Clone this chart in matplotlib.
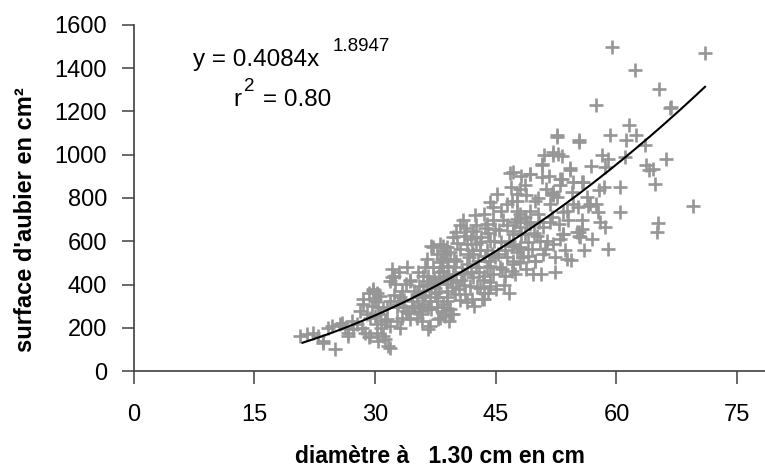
import numpy as np
import matplotlib
matplotlib.use("Agg")
import matplotlib.pyplot as plt

plt.rcParams['font.family'] = ['Liberation Sans', 'DejaVu Sans']

# diameter at 1.30 m (cm) and sapwood area (cm2)
diam = [
    20.7, 21.5, 22.3, 22.9, 23.5, 25.0, 24.2, 24.7, 25.7, 26.3,
    26.6, 27.3, 27.8, 28.4, 28.8, 29.4, 28.1, 28.5, 28.5, 29.7,
    30.0, 29.6, 29.0, 27.1, 26.6, 23.6, 25.9, 29.2, 29.2, 29.4,
    29.8, 30.6, 30.0, 32.1, 32.3, 31.9, 32.5, 33.3, 33.1, 33.9,
    34.3, 34.8, 34.6, 33.5, 33.9, 32.7, 31.5, 30.6, 30.0, 31.2,
    30.2, 31.9, 32.7, 33.3, 34.3, 35.2, 30.2, 31.0, 31.2, 31.6,
    30.4, 31.9, 33.1, 32.1, 30.4, 30.2, 31.9, 31.5, 32.9, 34.1,
    34.6, 35.2, 34.3, 33.0, 34.0, 32.4, 31.0, 33.6, 34.9, 30.8,
    36.6, 35.4, 36.2, 37.2, 38.1, 38.9, 37.7, 38.3, 38.7, 36.6,
    36.4, 36.0, 35.8, 36.8, 37.7, 37.7, 38.3, 38.1, 38.9, 38.9,
    37.5, 36.6, 35.6, 36.0, 35.2, 37.2, 38.3, 38.1, 39.1, 38.5,
    38.5, 39.3, 38.9, 38.5, 39.7, 38.9, 38.9, 38.5, 39.3, 39.5,
    38.7, 39.9, 37.0, 36.0, 37.7, 37.0, 36.4, 39.7, 36.8, 35.5,
    37.3, 38.0, 39.5, 36.2, 37.4, 39.6, 35.8, 37.8, 39.2, 36.5,
    37.9, 39.8, 35.5, 38.0, 39.0, 36.9, 37.6, 38.6, 35.9, 38.4,
    40.6, 40.1, 41.0, 39.7, 42.2, 43.9, 44.9, 42.6, 43.5, 44.3,
    44.7, 40.6, 41.4, 43.0, 44.3, 42.2, 43.7, 44.9, 40.1, 41.4,
    42.6, 44.3, 41.0, 42.2, 43.5, 44.7, 40.1, 41.8, 43.0, 44.3,
    43.5, 41.2, 42.0, 43.3, 41.4, 43.5, 44.3, 40.8, 41.6, 42.8,
    43.9, 40.4, 41.9, 42.5, 44.0, 40.9, 42.4, 43.2, 44.6, 41.3,
    42.9, 43.9, 40.5, 41.9, 42.7, 44.1, 40.2, 43.7, 44.5, 41.7,
    42.3, 40.0, 43.1, 44.8, 41.1, 42.0, 40.7, 43.4, 44.2, 42.5,
    46.8, 48.2, 48.0, 47.6, 47.0, 45.7, 48.0, 47.6, 46.4, 47.2,
    48.2, 45.7, 47.0, 48.0, 46.4, 47.2, 48.0, 45.5, 46.1, 47.0,
    46.4, 47.2, 49.3, 48.6, 47.6, 48.8, 49.9, 47.6, 48.6, 47.4,
    48.0, 49.3, 47.2, 48.6, 47.2, 48.0, 49.0, 47.6, 49.5, 48.4,
    47.2, 49.9, 47.4, 45.0, 46.0, 45.3, 46.6, 45.9, 49.2, 45.4,
    46.2, 48.7, 49.6, 46.9, 45.2, 48.9, 49.7, 45.8, 46.7, 49.0,
    52.6, 55.4, 52.1, 52.7, 53.2, 50.8, 54.2, 52.6, 52.1, 50.7,
    49.3, 50.7, 53.2, 54.6, 52.0, 52.1, 54.6, 53.8, 53.0, 52.1,
    51.3, 52.6, 50.3, 52.0, 53.4, 50.9, 51.7, 50.1, 53.4, 50.5,
    52.1, 53.0, 51.1, 52.4, 54.4, 49.9, 50.9, 53.4, 55.3, 55.1,
    54.2, 53.0, 51.8, 50.4, 52.9, 51.4, 54.0, 53.6, 50.6, 52.3,
    54.5, 51.0, 53.8, 50.2, 51.6,
    59.5, 62.3, 71.0, 65.3, 57.5, 66.6, 66.8, 59.2, 61.2, 61.6,
    62.4, 63.5, 59.0, 58.6, 61.1, 66.2, 63.7, 64.0, 64.5, 64.8,
    60.4, 58.4, 60.4, 69.5, 65.2, 65.0, 58.9, 58.6, 57.7, 57.5,
    58.0, 55.7, 55.3, 55.5, 55.7, 55.9, 56.3, 56.7, 56.5, 55.7,
    55.3, 57.8, 56.0, 57.0, 56.8, 58.2, 55.2,
]
aubier = [
    162, 172, 176, 162, 130, 102, 199, 209, 218, 199,
    162, 195, 218, 199, 176, 162, 278, 334, 311, 380,
    339, 301, 264, 232, 176, 139, 224, 155, 363, 247,
    371, 348, 325, 472, 441, 417, 402, 371, 340, 402,
    417, 371, 325, 294, 278, 294, 294, 263, 255, 232,
    217, 209, 232, 247, 240, 247, 178, 162, 147, 116,
    139, 108, 201, 433, 294, 363, 325, 240, 310, 270,
    300, 356, 420, 460, 480, 350, 290, 330, 290, 200,
    193, 456, 479, 572, 588, 572, 541, 518, 541, 441,
    402, 371, 340, 325, 340, 294, 278, 247, 325, 371,
    386, 294, 278, 309, 340, 479, 479, 502, 487, 580,
    557, 549, 510, 464, 449, 402, 340, 294, 286, 263,
    255, 356, 580, 441, 325, 286, 417, 263, 209, 395,
    430, 420, 420, 350, 360, 390, 230, 240, 230, 520,
    460, 520, 300, 365, 440, 400, 410, 430, 265, 310,
    673, 641, 626, 618, 649, 680, 657, 673, 727, 781,
    757, 564, 588, 595, 603, 541, 533, 526, 510, 495,
    479, 487, 449, 433, 441, 449, 410, 394, 386, 394,
    363, 356, 333, 333, 317, 333, 410, 460, 540, 510,
    560, 380, 610, 585, 640, 700, 720, 620, 700, 660,
    460, 480, 330, 460, 390, 360, 590, 660, 540, 525,
    300, 480, 560, 600, 400, 560, 420, 420, 510, 620,
    915, 904, 843, 820, 788, 742, 727, 704, 673, 649,
    634, 595, 580, 564, 526, 510, 502, 479, 441, 464,
    773, 920, 912, 858, 788, 812, 788, 742, 711, 688,
    665, 680, 634, 634, 588, 572, 595, 549, 564, 526,
    495, 510, 449, 380, 400, 540, 600, 700, 740, 650,
    560, 470, 450, 850, 820, 690, 640, 470, 360, 530,
    1082, 1067, 997, 1002, 993, 951, 940, 1090, 1012, 959,
    912, 897, 889, 873, 820, 812, 773, 742, 889, 827,
    843, 804, 727, 711, 734, 665, 688, 626, 634, 603,
    588, 611, 564, 526, 513, 510, 541, 634, 641, 641,
    928, 860, 770, 690, 680, 600, 700, 560, 450, 460,
    830, 1000, 520, 800, 900,
    1497, 1391, 1469, 1302, 1229, 1214, 1220, 1090, 1067, 1136,
    1090, 1044, 982, 943, 989, 982, 951, 928, 935, 866,
    850, 850, 734, 765, 683, 641, 564, 665, 734, 773,
    688, 657, 626, 618, 873, 873, 804, 773, 765, 696,
    1059, 835, 560, 610, 950, 1000, 760,
]

# power trendline shown on the chart
coef_a = 0.4084
coef_b = 1.8947
trend_range = [21, 71]

x_ticks = [0, 15, 30, 45, 60, 75]
y_ticks = [0, 200, 400, 600, 800, 1000, 1200, 1400, 1600]

W, H = 765, 469
fig = plt.figure(figsize=(W / 100, H / 100), dpi=100)
ax = fig.add_axes([133.5 / W, (H - 371) / H, (W - 133.5) / W, (371 - 25) / H])

ax.plot(diam, aubier, linestyle='none', marker='+', markersize=9.5,
        markeredgewidth=1.9, color='#969696', zorder=2)

xt = np.linspace(trend_range[0], trend_range[1], 200)
ax.plot(xt, coef_a * xt ** coef_b, color='black', linewidth=1.5, zorder=3)

ax.set_xlim(0, 78.45)
ax.set_ylim(0, 1600)
ax.set_xticks(x_ticks)
ax.set_yticks(y_ticks)
ax.set_xticklabels([str(v) for v in x_ticks])
ax.set_yticklabels([str(v) for v in y_ticks])

for s in ['top', 'right']:
    ax.spines[s].set_visible(False)
for s in ['left', 'bottom']:
    ax.spines[s].set_color('#404040')
    ax.spines[s].set_linewidth(1.2)
ax.tick_params(axis='both', direction='out', length=9, width=1.1,
               color='#404040', labelsize=17, labelcolor='black')
ax.tick_params(axis='x', pad=15)
ax.tick_params(axis='y', pad=10)

# equation text
fig.text(193 / W, 1 - 66 / H, 'y = 0.4084x', fontsize=17.5, va='baseline', ha='left')
fig.text(333 / W, 1 - 51 / H, '1.8947', fontsize=13.5, va='baseline', ha='left')
fig.text(233 / W, 1 - 106 / H, 'r', fontsize=17.5, va='baseline', ha='left')
fig.text(244 / W, 1 - 91 / H, '2', fontsize=13.5, va='baseline', ha='left')
fig.text(263 / W, 1 - 106 / H, '= 0.80', fontsize=17.5, va='baseline', ha='left')

fig.text(440 / W, 1 - 463 / H, 'diamètre à   1.30 cm en cm', fontsize=16.5,
         fontweight='bold', ha='center', va='baseline')
fig.text(26 / W, 1 - 219.5 / H, "surface d'aubier en cm²", fontsize=17,
         fontweight='bold', ha='center', va='center', rotation=90)

fig.savefig('out.png', dpi=100)
